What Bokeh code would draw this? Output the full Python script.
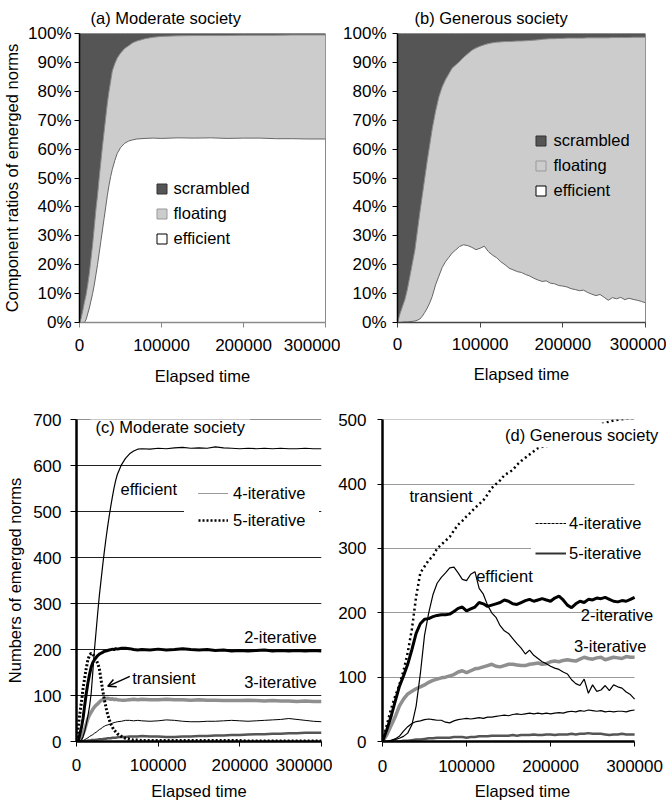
import numpy as np
from bokeh.plotting import figure
from bokeh.models import (Range1d, FixedTicker, Legend, LegendItem, Label,
                          Arrow, OpenHead)
from bokeh.layouts import row, column
from bokeh.embed import file_html
from bokeh.resources import INLINE

FONT = "Liberation Sans"
TICK_FS = "17px"
TXT_FS = "16.5px"
NAN = float("nan")

# ---------------- ticks ----------------
time_ticks = [0, 100000, 200000, 300000]
time_labels = ["0", "100000", "200000", "300000"]
pct_ticks = [0, 10, 20, 30, 40, 50, 60, 70, 80, 90, 100]
pct_labels = ["0%", "10%", "20%", "30%", "40%", "50%", "60%", "70%", "80%", "90%", "100%"]
count_ticks_c = [0, 100, 200, 300, 400, 500, 600, 700]
count_ticks_d = [0, 100, 200, 300, 400, 500]

# ---------------- (a) Moderate society, component ratios (%) ----------------
t_a = [0, 2000, 4000, 6000, 8000, 10000, 12000, 14000, 16000, 18000, 20000,
       22000, 24000, 26000, 28000, 30000, 32000, 34000, 36000, 38000, 40000,
       43000, 46000, 50000, 55000, 60000, 65000, 70000, 80000, 90000, 100000,
       120000, 140000, 160000, 180000, 200000, 220000, 240000, 260000, 280000, 300000]
efficient_a = [0, 0, 0, 0, 1, 3, 5, 7.5, 10, 13, 16.5,
               20, 24, 28, 32, 36, 40, 44, 47.5, 50.5, 53,
               56, 58.5, 60.5, 62, 62.8, 63.2, 63.5, 63.7, 63.8, 63.7,
               63.9, 63.8, 63.9, 63.7, 63.8, 63.8, 63.6, 63.6, 63.5, 63.5]
scrambled_a = [100, 98.5, 96, 93, 90.5, 87, 83, 78, 73, 67, 61,
               56, 50, 44.5, 39, 34, 29, 24, 20, 16.5, 13,
               10.5, 8.5, 6.8, 5.2, 4.2, 3.2, 2.6, 1.8, 1.3, 1.0,
               0.8, 0.7, 0.7, 0.7, 0.6, 0.6, 0.6, 0.5, 0.5, 0.5]

# ---------------- (b) Generous society, component ratios (%) ----------------
t_b = [0, 3000, 6000, 9000, 12000, 15000, 18000, 21000, 24000, 27000, 30000,
       33000, 36000, 39000, 42000, 46000, 50000, 54000, 58000, 62000, 66000,
       70000, 75000, 80000, 85000, 90000, 95000, 100000,
       105000, 110000, 115000, 120000, 125000, 130000, 135000, 140000, 145000, 150000,
       155000, 160000, 165000, 170000, 175000, 180000, 185000, 190000, 195000, 200000,
       205000, 210000, 215000, 220000, 225000, 230000, 235000, 240000, 245000, 250000,
       255000, 260000, 265000, 270000, 275000, 280000, 285000, 290000, 295000, 300000]
efficient_b = [0, 0, 0.1, 0.2, 0.2, 0.3, 0.4, 0.5, 0.8, 1.2, 2.2,
               3.5, 5, 6.8, 9, 13, 16, 19, 21, 22.5, 24,
               25, 26.3, 26.9, 26.6, 26, 25.2, 25.7,
               26.4, 24.5, 23.3, 22.4, 21, 20, 18.8, 18.2, 17.6, 17.3,
               16.6, 16.1, 15.3, 14.7, 14.2, 14.4, 13.6, 13.4, 12.8, 12.6,
               12.3, 11.7, 11.4, 11.0, 11.2, 10.4, 9.8, 9.3, 9.7, 8.7,
               7.7, 8.6, 8.2, 8.7, 7.9, 8.4, 8.0, 7.7, 7.3, 6.8]
scrambled_b = [100, 97, 94.5, 92, 88.5, 84, 79.5, 75, 68.5, 62, 56,
               50, 44, 38.5, 33, 27, 22, 18.5, 16, 14, 12,
               11, 9.7, 8.2, 7, 5.8, 5, 4.4,
               3.9, 3.5, 3.2, 3.0, 2.9, 2.8, 2.8, 2.7, 2.6, 2.6,
               2.5, 2.4, 2.3, 2.2, 2.0, 1.9, 1.8, 1.8, 1.7, 1.7,
               1.6, 1.6, 1.6, 1.6, 1.6, 1.5, 1.5, 1.5, 1.5, 1.5,
               1.5, 1.4, 1.4, 1.4, 1.4, 1.4, 1.3, 1.3, 1.3, 1.3]

# ---------------- (c) Moderate society, counts ----------------
t_c = [0, 2000, 4000, 6000, 8000, 10000, 12000, 14000, 16000, 18000, 20000,
       22000, 24000, 26000, 28000, 30000, 32000, 34000, 36000, 38000, 40000,
       42000, 44000, 46000, 48000, 50000,
       55000, 60000, 65000, 70000, 75000, 80000,
       90000, 100000, 110000, 120000, 130000, 140000, 150000, 160000, 170000, 180000,
       190000, 200000, 210000, 220000, 230000, 240000, 250000, 260000, 270000, 280000,
       290000, 300000]
efficient_c = [0, 0, 0, 3, 10, 22, 38, 56, 77, 105, 152,
               200, 240, 280, 318, 350, 382, 412, 440, 466, 490,
               512, 533, 552, 568, 581,
               602, 616, 626, 632, 636, 637,
               636, 638, 637, 639, 640, 638, 639, 638, 641, 639,
               638, 637, 638, 637, 638, 637, 638, 637, 637, 638,
               637, 637]
iter2_c = [0, 0, 15, 30, 50, 78, 105, 128, 146, 162, 172,
           178, 183, 187, 190, 192, 194, 196, 197, 198, 199,
           200, 201, 200, 202, 201,
           203, 203, 202, 200, 199, 200,
           199, 201, 199, 200, 202, 200, 199, 200, 198, 199,
           197, 198, 197, 198, 199, 197, 198, 197, 198, 197,
           198, 197]
iter3_c = [0, 0, 2, 8, 16, 26, 38, 50, 58, 64, 70,
           75, 79, 82, 86, 89, 91, 92, 93, 94, 93,
           92, 93, 91, 92, 91,
           90, 90, 91, 92, 91, 92,
           91, 91, 92, 91, 91, 90, 91, 90, 90, 89,
           89, 89, 90, 89, 88, 89, 88, 88, 87, 88,
           87, 87]
iter4_c = [0, 0, 0, 0, 2, 4, 6, 8, 11, 13, 15,
           18, 20, 23, 26, 28, 31, 33, 35, 36, 37,
           38, 40, 41, 42, 43,
           44, 46, 46, 45, 46, 45,
           44, 45, 47, 46, 44, 43, 43, 44, 44, 45,
           46, 45, 44, 45, 46, 47, 48, 50, 48, 46,
           44, 43]
iter5_c = [0, 0, 0, 0, 0, 1, 1, 2, 2, 3, 3,
           3, 4, 4, 5, 5, 5, 6, 6, 7, 7,
           7, 8, 8, 8, 9,
           10, 10, 11, 11, 11, 12,
           11, 11, 10, 10, 11, 11, 12, 12, 13, 13,
           14, 14, 15, 16, 16, 17, 17, 18, 18, 19,
           19, 19]
transient_c = [0, 30, 60, 85, 115, 138, 160, 178, 188, 192, 190,
               185, 178, 170, 158, 135, 112, 92, 75, 60, 48,
               38, 31, 25, 21, 17,
               11, 7, 5, 3, 3, 2,
               2, 2, 2, 2, 2, 2, 2, 2, 2, 2,
               2, 2, 1, 1, 1, 1, 1, 1, 1, 1,
               1, 1]

# ---------------- (d) Generous society, counts ----------------
t_d = [0, 5000, 10000, 15000, 20000, 25000, 30000, 35000, 40000, 45000, 50000,
       55000, 60000, 65000, 70000, 75000, 80000, 85000, 90000, 95000, 100000,
       105000, 110000, 115000, 120000, 125000, 130000, 135000, 140000, 145000, 150000,
       155000, 160000, 165000, 170000, 175000, 180000, 185000, 190000, 195000, 200000,
       205000, 210000, 215000, 220000, 225000, 230000, 235000, 240000, 245000, 250000,
       255000, 260000, 265000, 270000, 275000, 280000, 285000, 290000, 295000, 300000]
transient_d = [0, 25, 50, 70, 88, 110, 138, 175, 225, 262, 272,
               282, 288, 300, 306, 312, 318, 328, 337, 343, 350,
               356, 363, 369, 375, 384, 394, 400, 406, 414, 418,
               422, 430, 436, 441, 446, 451, 456, 458, 459, 461,
               464, 467, 470, 473, 476, 479, 482, 485, 487, 489,
               491, 493, 495, 497, 499, 500, 501, 502, 502, 503]
iter2_d = [0, 18, 38, 62, 85, 102, 120, 143, 168, 183, 190,
           191, 194, 196, 197, 197, 198, 202, 207, 209, 203,
           206, 209, 216, 214, 210, 212, 214, 216, 220, 218,
           214, 213, 216, 219, 221, 218, 220, 222, 220, 218,
           223, 226, 220, 212, 208, 214, 218, 216, 221, 220,
           223, 222, 224, 221, 218, 217, 219, 218, 221, 224]
efficient_d = [0, 0, 1, 3, 5, 8, 13, 26, 55, 105, 165,
               200, 228, 246, 255, 262, 270, 271, 262, 252, 250,
               260, 264, 238, 229, 212, 200, 193, 180, 172, 168,
               160, 152, 145, 136, 142, 134, 129, 124, 121, 117,
               114, 112, 108, 105, 96, 90, 87, 97, 75, 88,
               78, 80, 87, 79, 88, 85, 83, 77, 73, 66]
iter3_d = [0, 10, 24, 38, 55, 66, 74, 78, 82, 85, 88,
           92, 95, 97, 99, 100, 102, 104, 108, 110, 107,
           110, 113, 114, 116, 118, 120, 117, 116, 118, 120,
           120, 119, 118, 118, 120, 121, 122, 120, 121, 124,
           125, 124, 126, 127, 126, 125, 128, 131, 129, 128,
           130, 131, 127, 129, 131, 130, 129, 132, 131, 131]
iter4_d = [0, 0, 2, 4, 8, 16, 23, 28, 31, 32, 34,
           35, 34, 33, 33, 30, 29, 32, 34, 35, 36,
           35, 36, 37, 36, 38, 38, 39, 40, 41, 40,
           42, 43, 42, 43, 44, 43, 44, 43, 44, 43,
           44, 45, 44, 46, 47, 46, 48, 47, 49, 48,
           47, 48, 46, 47, 46, 47, 47, 46, 48, 49]
iter5_d = [0, 0, 0, 0, 0, 1, 1, 2, 3, 3, 4,
           5, 5, 6, 6, 6, 6, 7, 7, 7, 6,
           7, 7, 8, 8, 8, 9, 9, 9, 9, 9,
           10, 9, 10, 10, 10, 11, 10, 10, 11, 11,
           10, 11, 11, 11, 12, 11, 12, 12, 13, 12,
           12, 12, 11, 10, 11, 11, 12, 11, 11, 11]


def make_fig(w, h, left, right, top, bottom, ymax, xmax=300000):
    p = figure(width=w, height=h, x_range=Range1d(0, xmax), y_range=Range1d(0, ymax),
               output_backend="svg", toolbar_location=None,
               min_border_left=left, min_border_right=right,
               min_border_top=top, min_border_bottom=bottom,
               outline_line_color=None, background_fill_color="white",
               border_fill_color="white")
    p.xgrid.visible = False
    p.ygrid.visible = False
    return p


def style_x(p, color, width, standoff, label_standoff):
    ax = p.xaxis[0]
    ax.ticker = FixedTicker(ticks=time_ticks)
    ax.major_label_overrides = dict(zip(time_ticks, time_labels))
    ax.bounds = (time_ticks[0], time_ticks[-1])
    ax.axis_line_color = color
    ax.axis_line_width = width
    ax.major_tick_line_color = color
    ax.major_tick_line_width = 1
    ax.major_tick_out = 5
    ax.major_tick_in = 0
    ax.minor_tick_line_color = None
    ax.major_label_text_font = FONT
    ax.major_label_text_font_size = TICK_FS
    ax.major_label_text_color = "black"
    ax.major_label_standoff = standoff
    ax.axis_label = "Elapsed time"
    ax.axis_label_text_font = FONT
    ax.axis_label_text_font_size = TXT_FS
    ax.axis_label_text_font_style = "normal"
    ax.axis_label_text_color = "black"
    ax.axis_label_standoff = label_standoff


def style_y(p, ticks, labels, width, tick_out, standoff, label=None, label_standoff=0):
    ax = p.yaxis[0]
    ax.ticker = FixedTicker(ticks=ticks)
    if labels is not None:
        ax.major_label_overrides = dict(zip(ticks, labels))
    ax.bounds = (ticks[0], ticks[-1])
    ax.axis_line_color = "black"
    ax.axis_line_width = width
    ax.major_tick_line_color = "black"
    ax.major_tick_line_width = 1
    ax.major_tick_out = tick_out
    ax.major_tick_in = 0
    ax.minor_tick_line_color = None
    ax.major_label_text_font = FONT
    ax.major_label_text_font_size = TICK_FS
    ax.major_label_text_color = "black"
    ax.major_label_standoff = standoff
    if label:
        ax.axis_label = label
        ax.axis_label_text_font = FONT
        ax.axis_label_text_font_size = TXT_FS
        ax.axis_label_text_font_style = "normal"
        ax.axis_label_text_color = "black"
        ax.axis_label_standoff = label_standoff


def set_title(p, text, offset, standoff):
    p.title.text = text
    p.title.align = "left"
    p.title.vertical_align = "middle"
    p.title.offset = offset
    p.title.standoff = standoff
    p.title.text_font = FONT
    p.title.text_font_size = TXT_FS
    p.title.text_font_style = "normal"
    p.title.text_color = "black"


def stacked_panel(p, t, eff, scr, legend_loc, standoff):
    t = np.array(t, dtype=float)
    eff = np.array(eff, dtype=float)
    scr = np.array(scr, dtype=float)
    flo = 100.0 - eff - scr
    tops = np.cumsum(np.vstack([eff, flo, scr]), axis=0)
    xs = np.concatenate([t, [t[-1], t[0]]])

    def poly(top):
        return np.concatenate([top, [0.0, 0.0]])

    p.patch(xs, poly(tops[2]), fill_color="#555555", line_color="#444444", line_width=1)
    p.patch(xs, poly(tops[1]), fill_color="#cccccc", line_color="#8a8a8a", line_width=1)
    p.patch(xs, poly(tops[0]), fill_color="white", line_color="#666666", line_width=1)

    # legend-only markers (NaN data: nothing drawn in the plot)
    r_s = p.scatter([NAN], [NAN], marker="square", size=10, fill_color="#555555", line_color="#333333")
    r_f = p.scatter([NAN], [NAN], marker="square", size=10, fill_color="#cccccc", line_color="#999999")
    r_e = p.scatter([NAN], [NAN], marker="square", size=10, fill_color="white", line_color="black")
    leg = Legend(items=[LegendItem(label="scrambled", renderers=[r_s]),
                        LegendItem(label="floating", renderers=[r_f]),
                        LegendItem(label="efficient", renderers=[r_e])],
                 location=legend_loc, glyph_width=25, glyph_height=25, label_height=25,
                 spacing=0, padding=0, margin=0, label_standoff=standoff,
                 border_line_color=None, background_fill_alpha=0,
                 label_text_font=FONT, label_text_font_size=TXT_FS,
                 label_text_color="black")
    p.add_layout(leg)


# ---------------- panel (a) ----------------
pa = make_fig(340, 390, 79, 15, 33, 68, 100)
stacked_panel(pa, t_a, efficient_a, scrambled_a, (69.5, 71.5), 0)
style_x(pa, "#8a8a8a", 1.5, 11, 13)
style_y(pa, pct_ticks, pct_labels, 1.5, 5, 3, "Component ratios of emerged norms", 4)
set_title(pa, "(a) Moderate society", 11, 12)

# ---------------- panel (b) ----------------
pb = make_fig(326, 390, 56, 21, 32, 67, 100)
stacked_panel(pb, t_b, efficient_b, scrambled_b, (130.5, 119.5), 1)
style_x(pb, "#444444", 1.5, 10, 12)
style_y(pb, pct_ticks, pct_labels, 1.5, 5, 6)
set_title(pb, "(b) Generous society", 17, 11)


def text_label(p, x, y, text, align="left", bg=None, pad=0):
    kw = {}
    if bg:
        kw = dict(background_fill_color=bg, background_fill_alpha=1.0, padding=pad)
    p.add_layout(Label(x=x, y=y, text=text, text_align=align, text_baseline="middle",
                       text_font=FONT, text_font_size=TXT_FS, text_color="black",
                       level="overlay", **kw))


def line_legend(p, items, loc, glyph_w, standoff, spacing, cover):
    # a white border of width `cover` widens the white box so it hides grid lines
    leg = Legend(items=items, location=loc, glyph_width=glyph_w, glyph_height=20,
                 label_height=20, spacing=spacing, padding=0, margin=0,
                 label_standoff=standoff, border_line_color="white",
                 border_line_width=cover, border_line_alpha=1.0,
                 background_fill_color="white", background_fill_alpha=1.0,
                 label_text_font=FONT, label_text_font_size=TXT_FS,
                 label_text_color="black")
    p.add_layout(leg)


def count_grid(p, ticks, color):
    g = p.ygrid[0]
    g.visible = True
    g.ticker = FixedTicker(ticks=ticks)
    g.grid_line_color = color
    g.grid_line_width = 1
    try:
        g.cross_bounds = (time_ticks[0], time_ticks[-1])
    except AttributeError:
        g.visible = False
        p.segment(x0=[time_ticks[0]] * len(ticks), x1=[time_ticks[-1]] * len(ticks),
                  y0=ticks, y1=ticks, line_color=color, line_width=1, level="underlay")


# ---------------- panel (c) ----------------
pc = make_fig(332, 418, 76, 11, 29, 65, 700.6)
count_grid(pc, count_ticks_c, "#222222")
pc.line(t_c, iter5_c, line_color="#555555", line_width=2.5)
pc.line(t_c, iter4_c, line_color="black", line_width=1)
pc.line(t_c, iter3_c, line_color="#8f8f8f", line_width=3.5)
pc.line(t_c, transient_c, line_color="black", line_width=3, line_dash="2 2")
pc.line(t_c, iter2_c, line_color="black", line_width=3)
pc.line(t_c, efficient_c, line_color="black", line_width=1.2)
lc4 = pc.line([NAN, NAN], [NAN, NAN], line_color="#333333", line_width=1, line_dash="1 1")
lc5 = pc.line([NAN, NAN], [NAN, NAN], line_color="black", line_width=2.5, line_dash="2 2")
line_legend(pc, [LegendItem(label="4-iterative", renderers=[lc4]),
                 LegendItem(label="5-iterative", renderers=[lc5])],
            (108, 197), 30, 5, 7, 14)
style_x(pc, "black", 2.5, 12, 8)
style_y(pc, count_ticks_c, None, 2.5, 6, 9, "Numbers of emerged norms", 6)
text_label(pc, 17100, 684, "(c) Moderate society", bg="white", pad=5)
text_label(pc, 53900, 549, "efficient")
text_label(pc, 294000, 227, "2-iterative", align="right")
text_label(pc, 294000, 129, "3-iterative", align="right")
text_label(pc, 68200, 139, "transient")
pc.add_layout(Arrow(end=OpenHead(size=8, line_width=1.5, line_color="black"),
                    x_start=65300, y_start=141.6, x_end=38300, y_end=120,
                    line_width=1.5, line_color="black"))

# ---------------- panel (d) ----------------
# frame widened past 300000 so that labels reaching past the last tick are not clipped
pd_ = make_fig(334, 418, 50, 4, 28, 67, 500.5, xmax=333200)
count_grid(pd_, count_ticks_d, "#999999")
pd_.line(t_d, iter5_d, line_color="#555555", line_width=2.5)
pd_.line(t_d, iter4_d, line_color="black", line_width=1.2)
pd_.line(t_d, iter3_d, line_color="#8f8f8f", line_width=3.5)
pd_.line(t_d, iter2_d, line_color="black", line_width=3)
pd_.line(t_d, efficient_d, line_color="black", line_width=1.2)
pd_.line(t_d, transient_d, line_color="black", line_width=2.5, line_dash="2 3")
ld4 = pd_.line([NAN, NAN], [NAN, NAN], line_color="black", line_width=1, line_dash="3 1")
ld5 = pd_.line([NAN, NAN], [NAN, NAN], line_color="#333333", line_width=2)
line_legend(pd_, [LegendItem(label="4-iterative", renderers=[ld4]),
                  LegendItem(label="5-iterative", renderers=[ld5])],
            (149, 174), 31, 3, 10, 4)
style_x(pd_, "black", 2.5, 13, 7)
style_y(pd_, count_ticks_d, None, 2.5, 5, 11)
text_label(pd_, 142300, 476, "(d) Generous society", bg="white", pad=3)
text_label(pd_, 32000, 381, "transient")
text_label(pd_, 111500, 258, "efficient")
text_label(pd_, 236000, 196, "2-iterative")
text_label(pd_, 228000, 148, "3-iterative")

layout = column(row(pa, pb), row(pc, pd_))
open("out.html", "w").write(file_html(layout, INLINE))
